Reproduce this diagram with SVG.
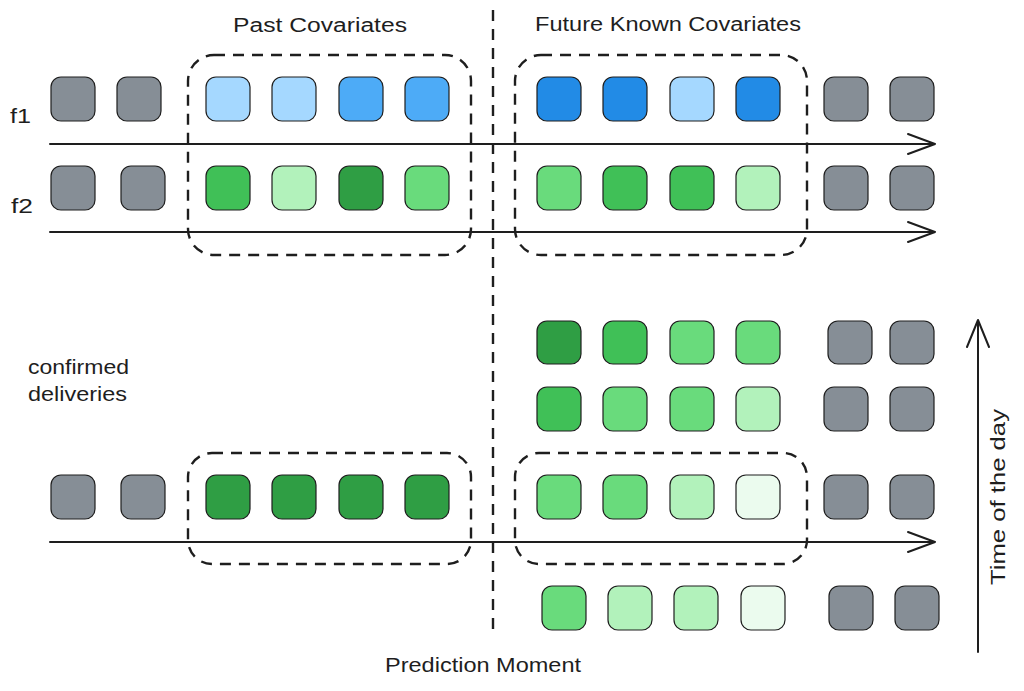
<svg xmlns="http://www.w3.org/2000/svg" width="1024" height="691" viewBox="0 0 1024 691">
<style>
.sq{stroke:#1e1e1e;stroke-width:1.2}
.g{fill:#868e96}.b1{fill:#a5d8ff}.b2{fill:#4dabf7}.b3{fill:#228be6}
.g1{fill:#2f9e44}.g2{fill:#40c057}.g3{fill:#69db7c}.g4{fill:#b2f2bb}.g5{fill:#ebfbee}
.ax{stroke:#1e1e1e;stroke-width:2;fill:none;stroke-linecap:round;stroke-linejoin:round}
.dash{stroke:#1e1e1e;stroke-width:2.4;fill:none;stroke-dasharray:11 8}
text{font-family:"Liberation Sans","DejaVu Sans",sans-serif;font-size:20px;fill:#1e1e1e}
</style>
<rect width="1024" height="691" fill="#ffffff"/>

<g id="labels">
<text x="233" y="32" textLength="174" lengthAdjust="spacingAndGlyphs">Past Covariates</text>
<text x="535" y="31" textLength="266" lengthAdjust="spacingAndGlyphs">Future Known Covariates</text>
<text x="10" y="123" font-size="22" textLength="21" lengthAdjust="spacingAndGlyphs">f1</text>
<text x="11" y="213" font-size="22" textLength="22" lengthAdjust="spacingAndGlyphs">f2</text>
<text x="28" y="374" textLength="101" lengthAdjust="spacingAndGlyphs">confirmed</text>
<text x="28" y="401" textLength="99" lengthAdjust="spacingAndGlyphs">deliveries</text>
<text x="385" y="672" textLength="196" lengthAdjust="spacingAndGlyphs">Prediction Moment</text>
<text transform="translate(1005,497) rotate(-90)" text-anchor="middle" textLength="176" lengthAdjust="spacingAndGlyphs">Time of the day</text>
</g>

<g id="groups">
<rect id="past-top" class="dash" x="188" y="55" width="283" height="200" rx="26"/>
<rect id="future-top" class="dash" x="515" y="55" width="292" height="200" rx="26"/>
<rect id="past-bottom" class="dash" x="188" y="453" width="283" height="111" rx="24"/>
<rect id="future-bottom" class="dash" x="515" y="453" width="292" height="111" rx="24"/>
<line id="prediction-line" class="dash" x1="493" y1="10" x2="493" y2="631"/>
</g>

<g id="connectors">
<path class="ax" d="M50 144H935M908 134L935 144L908 154"/>
<path class="ax" d="M50 232H935M908 222L935 232L908 242"/>
<path class="ax" d="M50 542H935M908 532L935 542L908 552"/>
<path class="ax" d="M978 652V320M967 347L978 320L989 347"/>
</g>

<g id="row-f1">
<g id="f1-1"><rect class="sq g" x="51" y="77" width="44" height="44" rx="10"/></g>
<g id="f1-2"><rect class="sq g" x="117" y="77" width="44" height="44" rx="10"/></g>
<g id="f1-3"><rect class="sq b1" x="206" y="77" width="44" height="44" rx="10"/></g>
<g id="f1-4"><rect class="sq b1" x="272" y="77" width="44" height="44" rx="10"/></g>
<g id="f1-5"><rect class="sq b2" x="339" y="77" width="44" height="44" rx="10"/></g>
<g id="f1-6"><rect class="sq b2" x="405" y="77" width="44" height="44" rx="10"/></g>
<g id="f1-7"><rect class="sq b3" x="537" y="77" width="44" height="44" rx="10"/></g>
<g id="f1-8"><rect class="sq b3" x="603" y="77" width="44" height="44" rx="10"/></g>
<g id="f1-9"><rect class="sq b1" x="670" y="77" width="44" height="44" rx="10"/></g>
<g id="f1-10"><rect class="sq b3" x="736" y="77" width="44" height="44" rx="10"/></g>
<g id="f1-11"><rect class="sq g" x="824" y="77" width="44" height="44" rx="10"/></g>
<g id="f1-12"><rect class="sq g" x="890" y="77" width="44" height="44" rx="10"/></g>
</g>

<g id="row-f2">
<g id="f2-1"><rect class="sq g" x="51" y="166" width="44" height="44" rx="10"/></g>
<g id="f2-2"><rect class="sq g" x="121" y="166" width="44" height="44" rx="10"/></g>
<g id="f2-3"><rect class="sq g2" x="206" y="166" width="44" height="44" rx="10"/></g>
<g id="f2-4"><rect class="sq g4" x="272" y="166" width="44" height="44" rx="10"/></g>
<g id="f2-5"><rect class="sq g1" x="339" y="166" width="44" height="44" rx="10"/></g>
<g id="f2-6"><rect class="sq g3" x="405" y="166" width="44" height="44" rx="10"/></g>
<g id="f2-7"><rect class="sq g3" x="537" y="166" width="44" height="44" rx="10"/></g>
<g id="f2-8"><rect class="sq g2" x="603" y="166" width="44" height="44" rx="10"/></g>
<g id="f2-9"><rect class="sq g2" x="670" y="166" width="44" height="44" rx="10"/></g>
<g id="f2-10"><rect class="sq g4" x="736" y="166" width="44" height="44" rx="10"/></g>
<g id="f2-11"><rect class="sq g" x="824" y="166" width="44" height="44" rx="10"/></g>
<g id="f2-12"><rect class="sq g" x="890" y="166" width="44" height="44" rx="10"/></g>
</g>

<g id="row-a">
<g id="a-1"><rect class="sq g1" x="537" y="321" width="44" height="43" rx="10"/></g>
<g id="a-2"><rect class="sq g2" x="603" y="321" width="44" height="43" rx="10"/></g>
<g id="a-3"><rect class="sq g3" x="670" y="321" width="44" height="43" rx="10"/></g>
<g id="a-4"><rect class="sq g3" x="736" y="321" width="44" height="43" rx="10"/></g>
<g id="a-5"><rect class="sq g" x="828" y="321" width="44" height="43" rx="10"/></g>
<g id="a-6"><rect class="sq g" x="890" y="321" width="44" height="43" rx="10"/></g>
</g>

<g id="row-b">
<g id="b-1"><rect class="sq g2" x="537" y="387" width="44" height="44" rx="10"/></g>
<g id="b-2"><rect class="sq g3" x="603" y="387" width="44" height="44" rx="10"/></g>
<g id="b-3"><rect class="sq g3" x="670" y="387" width="44" height="44" rx="10"/></g>
<g id="b-4"><rect class="sq g4" x="736" y="387" width="44" height="44" rx="10"/></g>
<g id="b-5"><rect class="sq g" x="824" y="387" width="44" height="44" rx="10"/></g>
<g id="b-6"><rect class="sq g" x="890" y="387" width="44" height="44" rx="10"/></g>
</g>

<g id="row-c">
<g id="c-1"><rect class="sq g" x="51" y="475" width="44" height="44" rx="10"/></g>
<g id="c-2"><rect class="sq g" x="121" y="475" width="44" height="44" rx="10"/></g>
<g id="c-3"><rect class="sq g1" x="206" y="475" width="44" height="44" rx="10"/></g>
<g id="c-4"><rect class="sq g1" x="272" y="475" width="44" height="44" rx="10"/></g>
<g id="c-5"><rect class="sq g1" x="339" y="475" width="44" height="44" rx="10"/></g>
<g id="c-6"><rect class="sq g1" x="405" y="475" width="44" height="44" rx="10"/></g>
<g id="c-7"><rect class="sq g3" x="537" y="475" width="44" height="44" rx="10"/></g>
<g id="c-8"><rect class="sq g3" x="603" y="475" width="44" height="44" rx="10"/></g>
<g id="c-9"><rect class="sq g4" x="670" y="475" width="44" height="44" rx="10"/></g>
<g id="c-10"><rect class="sq g5" x="736" y="475" width="44" height="44" rx="10"/></g>
<g id="c-11"><rect class="sq g" x="824" y="475" width="44" height="44" rx="10"/></g>
<g id="c-12"><rect class="sq g" x="890" y="475" width="44" height="44" rx="10"/></g>
</g>

<g id="row-d">
<g id="d-1"><rect class="sq g3" x="542" y="586" width="44" height="44" rx="10"/></g>
<g id="d-2"><rect class="sq g4" x="608" y="586" width="44" height="44" rx="10"/></g>
<g id="d-3"><rect class="sq g4" x="674" y="586" width="44" height="44" rx="10"/></g>
<g id="d-4"><rect class="sq g5" x="741" y="586" width="44" height="44" rx="10"/></g>
<g id="d-5"><rect class="sq g" x="829" y="586" width="44" height="44" rx="10"/></g>
<g id="d-6"><rect class="sq g" x="895" y="586" width="44" height="44" rx="10"/></g>
</g>
</svg>
